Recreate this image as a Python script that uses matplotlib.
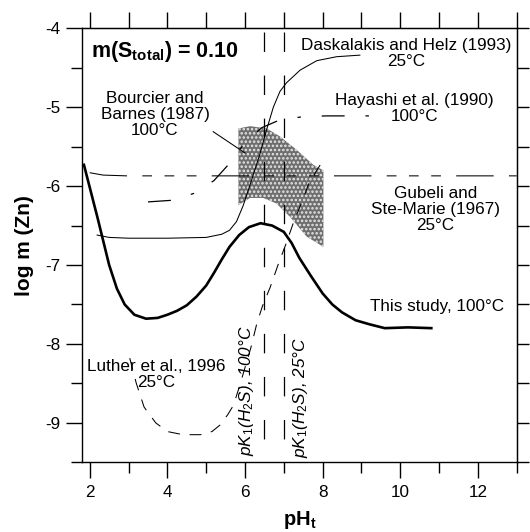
import numpy as np
import matplotlib
matplotlib.use('Agg')
import matplotlib.pyplot as plt
from matplotlib.patches import Polygon

plt.rcParams['font.family'] = ['Liberation Sans', 'DejaVu Sans']
plt.rcParams['mathtext.fontset'] = 'custom'
plt.rcParams['mathtext.rm'] = 'Liberation Sans'
plt.rcParams['mathtext.it'] = 'Liberation Sans:italic'
plt.rcParams['mathtext.bf'] = 'Liberation Sans:bold'
plt.rcParams['axes.unicode_minus'] = False
plt.rcParams['lines.scale_dashes'] = False
plt.rcParams['hatch.linewidth'] = 1.2

# This study, 100 C (thick solid)
study_ph = [1.85, 2.2, 2.5, 2.7, 2.9, 3.15, 3.45, 3.75, 4.0, 4.25, 4.5, 4.75, 5.0, 5.2, 5.4,
            5.6, 5.85, 6.1, 6.4, 6.7, 7.0, 7.2, 7.4, 7.7, 8.0, 8.25, 8.5, 8.85, 9.2, 9.6, 10.2, 10.8]
study_logm = [-5.73, -6.4, -7.0, -7.3, -7.5, -7.63, -7.68, -7.67, -7.63, -7.58, -7.51, -7.4, -7.26, -7.1, -6.93,
              -6.77, -6.62, -6.52, -6.47, -6.5, -6.58, -6.72, -6.91, -7.14, -7.36, -7.5, -7.6, -7.7, -7.75, -7.8, -7.79, -7.8]

# Daskalakis and Helz (1993), 25 C
dask_ph = [2.19, 2.5, 3.0, 4.0, 5.0, 5.4, 5.6, 5.78, 5.95, 6.1, 6.25, 6.38, 6.56, 6.73, 6.9, 7.07, 7.42, 7.85, 8.36, 8.96]
dask_logm = [-6.62, -6.65, -6.66, -6.66, -6.65, -6.61, -6.56, -6.45, -6.25, -6.03, -5.8, -5.6, -5.28, -5.0, -4.8, -4.69, -4.53, -4.41, -4.36, -4.34]

# Hayashi et al. (1990), 100 C
haya_ph = [3.5, 4.1, 4.7, 5.2, 5.55, 6.0, 6.43, 6.9, 7.5, 8.1, 9.3]
haya_logm = [-6.2, -6.18, -6.09, -5.93, -5.74, -5.45, -5.26, -5.16, -5.12, -5.11, -5.11]

# Gubeli and Ste-Marie (1967), 25 C
gub_ph = [2.0, 2.34, 2.95, 13.0]
gub_logm = [-5.83, -5.86, -5.87, -5.87]

# Luther et al., 1996, 25 C
luth_ph = [3.03, 3.2, 3.4, 3.7, 4.0, 4.3, 4.6, 4.85, 5.15, 5.35, 5.55, 5.7, 5.85, 6.0, 6.15, 6.3, 6.45,
           6.65, 6.85, 7.05, 7.25, 7.45, 7.65, 7.85, 8.04]
luth_logm = [-8.18, -8.5, -8.8, -9.0, -9.11, -9.14, -9.15, -9.15, -9.11, -9.03, -8.9, -8.78, -8.55, -8.3, -8.05,
             -7.75, -7.52, -7.28, -7.0, -6.74, -6.46, -6.22, -5.96, -5.8, -5.65]

# Bourcier and Barnes (1987), 100 C : shaded band outline
bour_ph = [5.83, 6.13, 6.56, 6.9, 7.33, 7.76, 8.02, 8.02, 7.59, 7.16, 6.81, 6.47, 6.13, 5.83]
bour_logm = [-5.27, -5.24, -5.27, -5.37, -5.54, -5.73, -5.8, -6.77, -6.64, -6.39, -6.22, -6.15, -6.15, -6.24]

# pK1(H2S) positions
pk1_100 = 6.5
pk1_25 = 7.0

fig = plt.figure(figsize=(5.3, 5.32), dpi=100)
ax = fig.add_axes([0.1547, 0.131, 0.8202, 0.8158])

band = Polygon(np.column_stack([bour_ph, bour_logm]), closed=True, facecolor='#6e6e6e',
               edgecolor='#e8e8e8', hatch='....', linewidth=0, zorder=1)
ax.add_patch(band)

ax.plot(study_ph, study_logm, color='black', lw=1.9, zorder=3)
ax.plot(dask_ph, dask_logm, color='black', lw=0.75, zorder=3)
ax.plot(haya_ph, haya_logm, color='black', lw=0.9, dashes=(16.5, 15, 2.5, 15), zorder=3)
ax.plot(gub_ph, gub_logm, color='black', lw=0.75,
        dashes=(27, 11, 7, 9, 7, 9, 7, 11), zorder=3)
ax.plot(luth_ph, luth_logm, color='black', lw=0.75, dashes=(8.5, 7), zorder=3)

for xv in [pk1_100, pk1_25]:
    ax.plot([xv, xv], [-4.05, -9.4], color='black', lw=0.9, dashes=(14, 17), zorder=2)

# pointer for Bourcier and Barnes
ax.plot([5.18, 6.0], [-5.31, -5.58], color='black', lw=0.75, zorder=3)

fs = 12.3
ax.text(2.04, -4.3, r'm(S$_{\mathbf{total}}$) = 0.10', fontsize=15.5, fontweight='bold',
        ha='left', va='center')
ax.text(10.14, -4.32, 'Daskalakis and Helz (1993)\n25°C', fontsize=fs, ha='center', va='center',
        multialignment='center', linespacing=1.1)
ax.text(10.37, -5.02, 'Hayashi et al. (1990)\n100°C', fontsize=fs, ha='center', va='center',
        multialignment='center', linespacing=1.1)
ax.text(10.9, -6.3, 'Gubeli and\nSte-Marie (1967)\n25°C', fontsize=fs, ha='center', va='center',
        multialignment='center', linespacing=1.1)
ax.text(10.94, -7.53, 'This study, 100°C', fontsize=fs, ha='center', va='center')
ax.text(3.72, -8.39, 'Luther et al., 1996\n25°C', fontsize=fs, ha='center', va='center',
        multialignment='center', linespacing=1.1)
ax.text(3.68, -5.09, 'Bourcier and\nBarnes (1987)\n100°C', fontsize=fs, ha='center', va='center',
        multialignment='center', linespacing=1.1)
ax.text(6.05, -9.42, r'pK$_\mathit{1}$(H$_\mathit{2}$S), 100°C', fontsize=fs, style='italic',
        rotation=90, ha='center', va='bottom')
ax.text(7.44, -9.45, r'pK$_\mathit{1}$(H$_\mathit{2}$S), 25°C', fontsize=fs, style='italic',
        rotation=90, ha='center', va='bottom')

ax.set_xlim(1.8, 13)
ax.set_ylim(-9.5, -4)
ax.set_xticks([2, 4, 6, 8, 10, 12])
ax.set_xticks([3, 5, 7, 9, 11, 13], minor=True)
ax.set_yticks([-9, -8, -7, -6, -5, -4])
ax.set_yticks([-9.5, -8.5, -7.5, -6.5, -5.5, -4.5], minor=True)
ax.tick_params(axis='x', which='major', direction='out', length=11.5, width=1.0, pad=5, labelsize=fs)
ax.tick_params(axis='x', which='minor', direction='out', length=7.9, width=1.0)
ax.tick_params(axis='y', which='major', direction='out', length=11.3, width=1.0, pad=4, labelsize=fs)
ax.tick_params(axis='y', which='minor', direction='out', length=7.9, width=1.0)
for s in ax.spines.values():
    s.set_linewidth(1.0)

top = ax.secondary_xaxis('top')
top.set_xticks(list(range(2, 14)))
top.set_xticklabels([])
top.tick_params(direction='out', length=11.2, width=1.0)
right = ax.secondary_yaxis('right')
right.set_yticks(list(np.arange(-9.5, -3.9, 0.5)))
right.set_yticklabels([])
right.tick_params(direction='out', length=8.6, width=1.0)

ax.set_xlabel(r'pH$_{\mathbf{t}}$', fontsize=14.5, fontweight='bold', labelpad=6)
ax.set_ylabel('log m (Zn)', fontsize=15, fontweight='bold', labelpad=8)

fig.savefig('out.png', dpi=100)
